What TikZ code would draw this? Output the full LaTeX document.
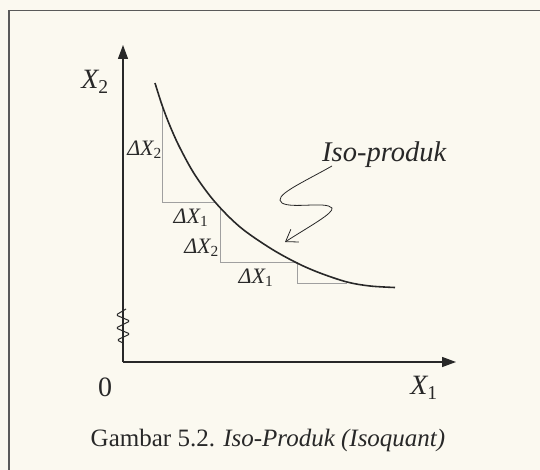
\documentclass[tikz,border=0pt]{standalone}
\usepackage{fontspec}
\setmainfont{Liberation Serif}
\usetikzlibrary{arrows.meta}
\definecolor{paper}{RGB}{251,249,240}
\definecolor{ink}{RGB}{40,40,40}
\definecolor{stepgray}{RGB}{160,160,160}
\definecolor{framegray}{RGB}{90,90,90}
\newcommand\subup[1]{\textsubscript{\upshape #1}}
\tikzset{
  axisline/.style={line width=1.3pt, draw=ink, -{Triangle[length=14pt,width=10pt]}},
  steplines/.style={line width=0.8pt, draw=stepgray},
  bigl/.style={text=ink, inner sep=0pt, font=\fontsize{28}{30}\selectfont},
  dlab/.style={text=ink, inner sep=0pt, font=\fontsize{22}{24}\selectfont},
  squig/.style={line width=0.8pt, draw=ink, -{Straight Barb[length=11pt,width=15pt]}},
}
\begin{document}
\begin{tikzpicture}[x=1pt,y=-1pt]
\useasboundingbox (0,0) rectangle (540,470);
\fill[paper] (0,0) rectangle (540,470);
% frame
\draw[framegray, line width=1.8pt] (9,470) -- (9,10.5) -- (540,10.5);
% axes
\coordinate (O) at (123,362);
\coordinate (ytop) at (123,45);
\coordinate (xend) at (456,362);
\draw[axisline] (O) -- (ytop);
\draw[axisline] (O) -- (xend);
% break mark on y-axis
\draw[ink, line width=1pt, rounded corners=1.5pt] (126,309) -- (116,315) -- (130,321) -- (116,328) -- (130,334) -- (117,340) -- (123,343);
% step lines
\coordinate (s1) at (162,106);
\coordinate (s2) at (162,202);
\coordinate (s3) at (215,202);
\coordinate (s4) at (220,207);
\coordinate (s5) at (220,262);
\coordinate (s6) at (297,262);
\coordinate (s7) at (297,283);
\coordinate (s8) at (347,283);
\draw[steplines] (s1) -- (s2) -- (s3);
\draw[steplines] (s4) -- (s5) -- (s6);
\draw[steplines] (s6) -- (s7) -- (s8);
% isoquant curve
\draw[ink, line width=1.6pt] plot[smooth, tension=0.55] coordinates {(155,83) (162,105) (170,126) (180,148) (195,175) (215,202) (240,227) (270,248) (297,263) (320,273) (347,282) (370,286) (395,287.5)};
% labels
\node[bigl] (lx2) at (95,82) {\itshape X\subup{2}};
\node[bigl] (lx1) at (424,388) {\itshape X\subup{1}};
\node[bigl] (l0) at (105,387) {0};
\node[dlab, anchor=east] (d1) at (162,150) {\itshape ΔX\subup{2}};
\node[dlab] (d2) at (191,218) {\itshape ΔX\subup{1}};
\node[dlab, anchor=east] (d3) at (219,248) {\itshape ΔX\subup{2}};
\node[dlab] (d4) at (256,278) {\itshape ΔX\subup{1}};
\node[text=ink, inner sep=0pt, anchor=base west, font=\fontsize{28.5}{30}\selectfont\itshape] (iso) at (322,162) {Iso-produk};
\draw[squig] (332,166) .. controls (300,184) and (272,196) .. (282,203) .. controls (292,209) and (326,201) .. (332,208) .. controls (334,213) and (310,226) .. (285,242);
\node[text=ink, inner sep=0pt, font=\fontsize{25}{27}\selectfont] (cap) at (268,440) {Gambar 5.2. \textit{Iso-Produk (Isoquant)}};
\end{tikzpicture}
\end{document}
